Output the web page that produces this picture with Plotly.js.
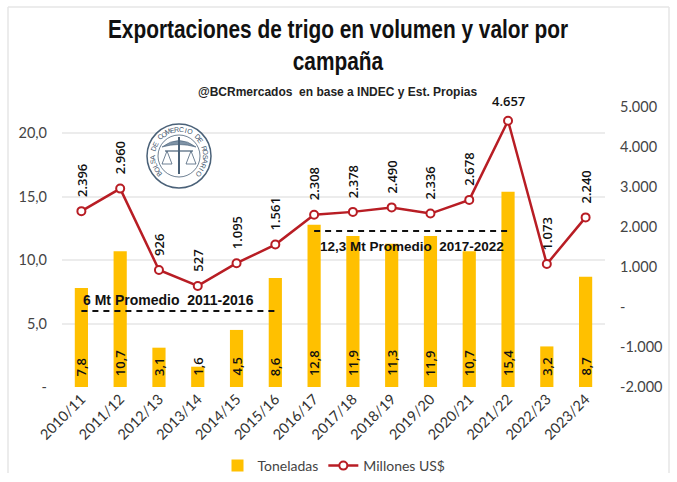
<!DOCTYPE html>
<html><head><meta charset="utf-8"><script src="https://cdn.plot.ly/plotly-3.0.1.min.js"></script>
<style>html,body{margin:0;padding:0;background:#fff}</style></head><body><div id="c" style="width:677px;height:482px"></div>
<script>
const campaigns=["2010/11","2011/12","2012/13","2013/14","2014/15","2015/16","2016/17","2017/18","2018/19","2019/20","2020/21","2021/22","2022/23","2023/24"];
const toneladas=[7.8,10.7,3.1,1.6,4.5,8.6,12.8,11.9,11.3,11.9,10.7,15.4,3.2,8.7];
const millones=[2396,2960,926,527,1095,1561,2308,2378,2490,2336,2678,4657,1073,2240];
const avgA=[6,6,6,6,6,6];
const avgB=[12.3,12.3,12.3,12.3,12.3,12.3];
const leftTicks=[0,5,10,15,20];
const leftText=["-","5,0","10,0","15,0","20,0"];
const rightTicks=[-2000,-1000,0,1000,2000,3000,4000,5000];
const rightText=["-2.000","-1.000","-","1.000","2.000","3.000","4.000","5.000"];
const fmt=v=>String(v).replace(/\B(?=(\d{3})+$)/g,".");
const fn="'Liberation Sans',sans-serif";
const W=677,H=482,mL=62,mR=72,mT=107,mB=95;
const px=x=>(x-mL)/(W-mL-mR), py=y=>(H-mB-y)/(H-mT-mB);
const annos=millones.map((v,i)=>{
  const flat=i===11;
  return {x:campaigns[i],y:v,xref:'x',yref:'y2',text:fmt(v),showarrow:false,
    textangle:flat?0:-90,yanchor:'bottom',yshift:flat?9:12,xanchor:'center',
    font:{family:"'Open Sans',sans-serif",size:13,color:'#111',weight:600}};
});
toneladas.forEach((v,i)=>annos.push({x:campaigns[i],y:0,xref:'x',yref:'y',text:String(v).replace('.',','),showarrow:false,
  textangle:-90,yanchor:'bottom',yshift:9,xanchor:'center',font:{family:"'Open Sans',sans-serif",size:13,color:'#111',weight:600}}));
annos.push({x:campaigns[0],y:6,xref:'x',yref:'y',xanchor:'left',yanchor:'bottom',yshift:1,text:'6 Mt Promedio  2011-2016',showarrow:false,
  font:{family:fn,size:14,color:'#111',weight:700}});
annos.push({x:campaigns[6],y:12.3,xref:'x',yref:'y',xanchor:'left',yanchor:'top',xshift:4,yshift:-6,text:'12,3 Mt Promedio  2017-2022',showarrow:false,
  font:{family:fn,size:13.5,color:'#111',weight:700}});
annos.push({x:px(337),y:py(83),xref:'paper',yref:'paper',text:'@BCRmercados  en base a INDEC y Est. Propias',showarrow:false,
  font:{family:fn,size:12,color:'#222',weight:700}});
// seal text
const seal="BOLSA DE COMERCIO DE ROSARIO";
const cx=179,cy=156,r=26.5,a0=-132,a1=132;
[...seal].forEach((ch,i)=>{
  const t=a0+(a1-a0)*i/(seal.length-1),rad=t*Math.PI/180;
  annos.push({x:px(cx+r*Math.sin(rad)),y:py(cy-r*Math.cos(rad)),xref:'paper',yref:'paper',xanchor:'center',yanchor:'middle',text:ch,showarrow:false,textangle:t,
    font:{family:"'Liberation Sans',sans-serif",size:7,color:'#3f566d'}});
});
const sc='#4a6178';
const P=(a,b)=>`${px(a)} ${py(b)}`;
const pap={xref:'paper',yref:'paper'};
const frame={color:'#e6e6e6',width:1.5};
const shapes=[
 {...pap,type:'line',x0:px(8),x1:px(669),y0:py(7),y1:py(7),line:frame,layer:'below'},
 {...pap,type:'line',x0:px(8),x1:px(8),y0:py(7),y1:py(473),line:frame,layer:'below'},
 {...pap,type:'line',x0:px(669),x1:px(669),y0:py(7),y1:py(473),line:frame,layer:'below'},
 {...pap,type:'circle',x0:px(147),x1:px(211),y0:py(124),y1:py(188),line:{color:sc,width:1.5},fillcolor:'#fff'},
 {...pap,type:'circle',x0:px(158),x1:px(200),y0:py(135),y1:py(177),line:{color:sc,width:0.8}},
 {...pap,type:'path',path:`M ${P(162,147)} Q ${P(179,134)} ${P(196,147)} Q ${P(179,142)} ${P(162,147)} Z`,fillcolor:'#7f93a6',line:{color:sc,width:0.6}},
 {...pap,type:'line',x0:px(179),x1:px(179),y0:py(137),y1:py(174),line:{color:sc,width:2}},
 {...pap,type:'line',x0:px(165),x1:px(193),y0:py(151),y1:py(151),line:{color:sc,width:1.2}},
 {...pap,type:'path',path:`M ${P(167,151)} L ${P(162,164)} L ${P(172,164)} Z M ${P(191,151)} L ${P(186,164)} L ${P(196,164)} Z`,line:{color:sc,width:0.8}}
];
const traces=[
 {type:'bar',name:'Toneladas',x:campaigns,y:toneladas,marker:{color:'#FFC000'},width:0.34,hoverinfo:'x+y'},
 {type:'scatter',mode:'lines+markers',name:'Millones US$',x:campaigns,y:millones,yaxis:'y2',
  line:{color:'#B81D24',width:2.5},marker:{symbol:'circle',size:8,color:'#fff',line:{color:'#B81D24',width:2}}},
 {type:'scatter',mode:'lines',x:campaigns.slice(0,6),y:avgA,showlegend:false,line:{color:'#111',width:2,dash:'6px,5px'},hoverinfo:'skip'},
 {type:'scatter',mode:'lines',x:campaigns.slice(6,12),y:avgB,showlegend:false,line:{color:'#111',width:2,dash:'6px,5px'},hoverinfo:'skip'}
];
const tf="Lato,'Open Sans',sans-serif";
const layout={width:W,height:H,paper_bgcolor:'#fff',plot_bgcolor:'#fff',showlegend:true,
 title:{text:'Exportaciones de trigo en volumen y valor por<br>campaña',x:338/W,xanchor:'center',y:1-38/H,yanchor:'middle',xref:'container',yref:'container',
   font:{family:fn,size:25,color:'#111',weight:700}},
 margin:{l:mL,r:mR,t:mT,b:mB,autoexpand:false},
 font:{family:tf,color:'#444'},
 xaxis:{type:'category',categoryorder:'array',categoryarray:campaigns,range:[-0.5,13.5],tickangle:-45,tickfont:{size:14.5,color:'#333',family:tf},showgrid:false,ticks:'',zeroline:false,showline:false},
 yaxis:{range:[0,22.08],tickvals:leftTicks,ticktext:leftText,tickfont:{size:14.5,color:'#444'},gridcolor:'#ececec',gridwidth:1.5,zeroline:false,showline:false,ticks:'',ticklabelstandoff:14},
 yaxis2:{overlaying:'y',side:'right',range:[-2000,5000],tickvals:rightTicks,ticktext:rightText,tickfont:{size:14.5,color:'#444'},showgrid:false,zeroline:false,showline:false,ticks:'',ticklabelstandoff:14},
 legend:{orientation:'h',x:px(334),xanchor:'center',y:py(450),yanchor:'top',font:{size:14,color:'#444'}},
 annotations:annos,shapes:shapes};
Plotly.newPlot('c',traces,layout,{displayModeBar:false,responsive:false}).then(()=>{
  const t=document.querySelector('.g-gtitle');
  if(t) t.setAttribute('transform','translate(338,0) scale(0.835,1) translate(-338,0)');
});
</script></body></html>
